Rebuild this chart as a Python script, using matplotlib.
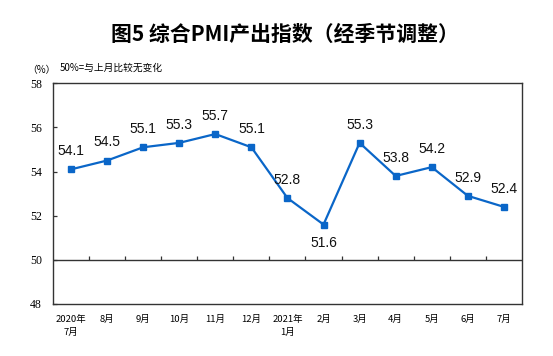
import matplotlib
matplotlib.use('Agg')
import matplotlib.pyplot as plt
import numpy as np

plt.rcParams['font.family'] = ['Noto Sans CJK SC', 'DejaVu Sans']

months = ['2020年\n7月', '8月', '9月', '10月', '11月', '12月', '2021年\n1月',
          '2月', '3月', '4月', '5月', '6月', '7月']
pmi = [54.1, 54.5, 55.1, 55.3, 55.7, 55.1, 52.8, 51.6, 55.3, 53.8, 54.2, 52.9, 52.4]
# label goes above the point unless listed here
below = [7]

line_color = '#0A66C8'
x = np.arange(len(months))

fig = plt.figure(figsize=(5.53, 3.56), dpi=100)
ax = fig.add_axes([0.0958, 0.1461, 0.848, 0.62])

ax.plot(x, pmi, color=line_color, lw=1.6, marker='s', markersize=4.2, zorder=3)

for i, v in enumerate(pmi):
    dy = -13 if i in below else 13
    ax.annotate(f'{v:.1f}', (x[i], v), xytext=(0, dy), textcoords='offset points',
                ha='center', va='center', fontsize=10, family='Liberation Sans',
                color='#111111')

# the 50 line with its category-boundary ticks
ax.axhline(50, color='#333333', lw=1.0, zorder=2)
ax.vlines(x[:-1] + 0.5, 50, 50.18, color='#333333', lw=0.9)

ax.set_xlim(-0.5, len(months) - 0.5)
ax.set_ylim(48, 58)
ax.set_yticks(np.arange(48, 59, 2))
ax.set_yticklabels([str(t) for t in range(48, 59, 2)], family='Liberation Serif',
                   fontsize=8.5)
ax.set_xticks(x)
ax.set_xticklabels(months, fontsize=6.8, linespacing=1.5)
ax.tick_params(axis='x', length=0, pad=8)
ax.tick_params(axis='y', direction='in', length=3, width=0.9, color='#333333', pad=8)

for s in ax.spines.values():
    s.set_color('#333333')
    s.set_linewidth(1.0)

fig.text(0.515, 0.903, '图5 综合PMI产出指数（经季节调整）', ha='center', va='center',
         fontsize=15, fontweight='semibold')
fig.text(0.05, 0.803, '（%）', ha='left', va='center', fontsize=7)
fig.text(0.108, 0.81, '50%=与上月比较无变化', ha='left', va='center', fontsize=7)

fig.savefig('out.png', dpi=100)
